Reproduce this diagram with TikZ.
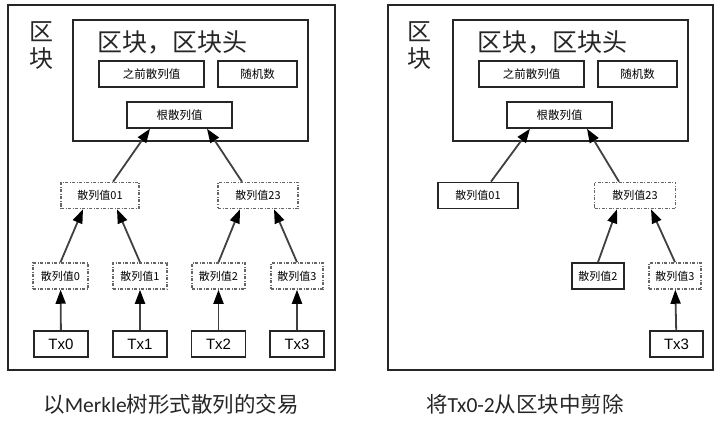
\documentclass[tikz,border=0pt]{standalone}
\usepackage{fontspec}
\setmainfont{Noto Sans CJK SC}
\newfontfamily\capfont{Carlito}
\newfontfamily\txfont{Liberation Sans}
\usepackage{tikz}
\usetikzlibrary{arrows.meta}

\begin{document}
\begin{tikzpicture}[x=1pt,y=-1pt]
	\tikzstyle{every node}=[inner sep=0pt]
	\tikzstyle{blockbox}=[draw=black!85, line width=1.8pt]
	\tikzstyle{fieldbox}=[draw=black!85, line width=1.5pt, minimum height=26pt, font=\fontsize{11.5}{12}\selectfont]
	\tikzstyle{hashbox}=[draw=black!60, line width=1.5pt, dash pattern=on 3pt off 1.5pt on 1pt off 1.5pt, minimum height=26pt, font=\fontsize{11}{12}\selectfont]
	\tikzstyle{prunedbox}=[draw=black!85, line width=1.7pt, minimum height=26pt, font=\fontsize{11}{12}\selectfont]
	\tikzstyle{txbox}=[draw=black!85, line width=1.5pt, minimum width=54pt, minimum height=26pt, font=\txfont\fontsize{15}{16}\selectfont]
	\tikzset{arr/.style={draw=black!75, line width=1.8pt, arrows={-Triangle[length=14pt,width=10pt,fill=black,color=black]}}}
	\tikzstyle{bigtext}=[font=\fontsize{24}{27}\selectfont, text=black!85, align=center]
	\tikzstyle{captext}=[font=\fontsize{21.5}{23}\selectfont, text=black!85]

	\useasboundingbox (0,0) rectangle (720,422);

	%% left panel: full tree
	\node [blockbox, minimum width=327pt, minimum height=365pt] (blockL) at (171.5,187.5) {};
	\node [bigtext] (blockLabelL) at (41,46) {区\\块};
	\node [blockbox, minimum width=235pt, minimum height=121pt] (headerL) at (190.5,80.5) {};
	\node [bigtext, font=\fontsize{25}{27}\selectfont] (headerLabelL) at (172,42) {区块，区块头};
	\node [fieldbox, minimum width=105pt] (prevL) at (151.5,74) {之前散列值};
	\node [fieldbox, minimum width=79pt] (nonceL) at (257.5,74) {随机数};
	\node [fieldbox, minimum width=105pt] (rootL) at (179.5,115) {根散列值};

	\node [hashbox, minimum width=78pt] (hOneL) at (100,195.5) {散列值01};
	\node [hashbox, minimum width=80pt] (hTwoL) at (258,195.5) {散列值23};

	\node [hashbox, minimum width=55pt] (hAL) at (60.5,276) {散列值0};
	\node [hashbox, minimum width=54pt] (hBL) at (140,276) {散列值1};
	\node [hashbox, minimum width=53pt] (hCL) at (218.5,276) {散列值2};
	\node [hashbox, minimum width=52pt] (hDL) at (297,276) {散列值3};

	\node [txbox] (txAL) at (61,344) {Tx0};
	\node [txbox] (txBL) at (140,344) {Tx1};
	\node [txbox] (txCL) at (218.5,344) {Tx2};
	\node [txbox] (txDL) at (297,344) {Tx3};

	\draw [arr] ([xshift=13pt]hOneL.north) -- ([xshift=-29.5pt]rootL.south);
	\draw [arr] ([xshift=-16pt]hTwoL.north) -- ([xshift=27.5pt]rootL.south);
	\draw [arr] (hAL.north) -- ([xshift=-17pt]hOneL.south);
	\draw [arr] (hBL.north) -- ([xshift=17pt]hOneL.south);
	\draw [arr] (hCL.north) -- ([xshift=-18pt]hTwoL.south);
	\draw [arr] (hDL.north) -- ([xshift=16pt]hTwoL.south);
	\draw [arr] (txAL) -- (hAL);
	\draw [arr] (txBL) -- (hBL);
	\draw [arr] (txCL) -- (hCL);
	\draw [arr] (txDL) -- (hDL);

	\node [captext] (capL) at (171,404) {以{\capfont Merkle}树形式散列的交易};

	%% right panel: pruned tree
	\node [blockbox, minimum width=325pt, minimum height=365pt] (blockR) at (550.5,187.5) {};
	\node [bigtext] (blockLabelR) at (419,46) {区\\块};
	\node [blockbox, minimum width=235pt, minimum height=121pt] (headerR) at (570.5,80.5) {};
	\node [bigtext, font=\fontsize{25}{27}\selectfont] (headerLabelR) at (552,42) {区块，区块头};
	\node [fieldbox, minimum width=105pt] (prevR) at (531.5,74) {之前散列值};
	\node [fieldbox, minimum width=79pt] (nonceR) at (637.5,74) {随机数};
	\node [fieldbox, minimum width=105pt] (rootR) at (559.5,115) {根散列值};

	\node [prunedbox, minimum width=80pt] (hOneR) at (478,195.5) {散列值01};
	\node [hashbox, minimum width=81pt] (hTwoR) at (635,195.5) {散列值23};

	\node [prunedbox, minimum width=52pt] (hCR) at (598,276) {散列值2};
	\node [hashbox, minimum width=52pt] (hDR) at (675,276) {散列值3};

	\node [txbox, minimum width=53pt] (txDR) at (676.5,344) {Tx3};

	\draw [arr] ([xshift=13pt]hOneR.north) -- ([xshift=-29.5pt]rootR.south);
	\draw [arr] ([xshift=-16pt]hTwoR.north) -- ([xshift=27.5pt]rootR.south);
	\draw [arr] (hCR.north) -- ([xshift=-18pt]hTwoR.south);
	\draw [arr] (hDR.north) -- ([xshift=16pt]hTwoR.south);
	\draw [arr] (txDR) -- (hDR);

	\node [captext] (capR) at (525,404) {将{\capfont Tx0-2}从区块中剪除};

\end{tikzpicture}
\end{document}
